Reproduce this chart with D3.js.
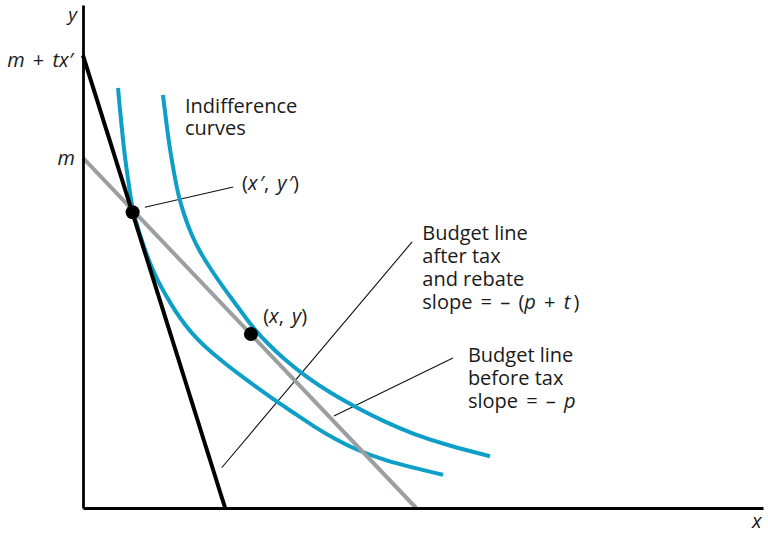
<!DOCTYPE html>
<html>
<head>
<meta charset="utf-8">
<script src="https://cdn.jsdelivr.net/npm/d3@7"></script>
<style>
  body { margin: 0; background: #fff; }
  svg text { font-family: "Open Sans", sans-serif; font-size: 20px; fill: #1a1a1a; }
  .math { font-style: italic; }
  .wide { word-spacing: 3px; }
</style>
</head>
<body>
<svg id="chart" width="768" height="534"></svg>
<script>
// budget lines: [x, y] intercept points
var afterTaxLine = [[0, 9.0], [2.09, 0]];
var beforeTaxLine = [[0, 6.96], [4.90, 0]];

// indifference curves
var innerCurve = [[0.515, 8.35], [0.544, 7.91], [0.574, 7.52], [0.603, 7.12], [0.647, 6.68],
  [0.691, 6.26], [0.735, 5.89], [0.824, 5.49], [0.912, 5.13], [1.0, 4.81], [1.103, 4.51],
  [1.221, 4.22], [1.353, 3.92], [1.5, 3.64], [1.676, 3.36], [1.882, 3.10], [2.118, 2.84],
  [2.382, 2.57], [2.647, 2.31], [2.897, 2.07], [3.147, 1.85], [3.382, 1.63], [3.706, 1.37],
  [4.029, 1.15], [4.441, 0.95], [4.853, 0.80], [5.294, 0.66]];
var outerCurve = [[1.176, 8.21], [1.221, 7.71], [1.268, 7.22], [1.330, 6.72], [1.400, 6.22],
  [1.490, 5.81], [1.595, 5.43], [1.720, 5.09], [1.868, 4.77], [2.040, 4.43], [2.221, 4.10],
  [2.382, 3.80], [2.529, 3.54], [2.721, 3.26], [2.941, 2.98], [3.265, 2.62], [3.632, 2.29],
  [4.029, 1.99], [4.441, 1.71], [4.853, 1.47], [5.397, 1.23], [5.985, 1.03]];

// chosen bundles (x', y') and (x, y)
var bundles = [[0.73, 5.88], [2.47, 3.46]];

// leader lines for the labels
var leaders = [
  [[0.91, 5.98], [2.21, 6.38]],
  [[2.04, 0.80], [4.84, 5.29]],
  [[3.69, 1.83], [5.44, 2.98]]
];

var svg = d3.select("#chart");

var x = d3.scaleLinear().domain([0, 10]).range([83, 763]);
var y = d3.scaleLinear().domain([0, 10]).range([508, 5]);

var line = d3.line().x(function(d) { return x(d[0]); }).y(function(d) { return y(d[1]); });
var curve = d3.line().x(function(d) { return x(d[0]); }).y(function(d) { return y(d[1]); })
  .curve(d3.curveBasis);

// leader lines go under everything
leaders.forEach(function(l) {
  svg.append("path").attr("d", line(l))
    .attr("fill", "none").attr("stroke", "#111").attr("stroke-width", 1.1);
});

// indifference curves
[innerCurve, outerCurve].forEach(function(c) {
  svg.append("path").attr("d", curve(c))
    .attr("fill", "none").attr("stroke", "#0d9fc7").attr("stroke-width", 4);
});

svg.append("path").attr("d", line(beforeTaxLine))
  .attr("fill", "none").attr("stroke", "#9a9fa1").attr("stroke-width", 4);
svg.append("path").attr("d", line(afterTaxLine))
  .attr("fill", "none").attr("stroke", "#000").attr("stroke-width", 4);

// axes, no ticks
svg.append("g").attr("transform", "translate(0," + y(0) + ")")
  .call(d3.axisBottom(x).ticks(0).tickSizeOuter(0));
svg.append("g").attr("transform", "translate(" + x(0) + ",0)")
  .call(d3.axisLeft(y).ticks(0).tickSizeOuter(0));
svg.selectAll(".domain").attr("stroke", "#000").attr("stroke-width", 2.8);

svg.selectAll(".bundle").data(bundles).enter().append("circle")
  .attr("class", "bundle")
  .attr("cx", function(d) { return x(d[0]); })
  .attr("cy", function(d) { return y(d[1]); })
  .attr("r", 7).attr("fill", "#000");

// text helper: parts are [string, italic?]
function label(px, py, parts, anchor, cls) {
  var t = svg.append("text").attr("x", px).attr("y", py)
    .attr("text-anchor", anchor || "start").attr("class", cls || null);
  parts.forEach(function(p) {
    t.append("tspan").attr("class", p[1] ? "math" : null).text(p[0]);
  });
  return t;
}

label(x(0) - 6, y(10) + 16, [["y", true]], "end").style("font-size", "19px");
label(x(10) - 11, y(0) + 20, [["x", true]]);
label(x(0) - 10, y(afterTaxLine[0][1]) + 12, [["m", true], [" + ", false], ["tx\u2032", true]], "end", "wide");
label(x(0) - 8, y(beforeTaxLine[0][1]) + 7, [["m", true]], "end");

label(x(1.5), y(7.85), [["Indifference", false]]);
label(x(1.5), y(7.85) + 22, [["curves", false]]);

label(x(2.34), y(6.32), [["(", false], ["x\u200a\u2032", true], [", ", false], ["y\u200a\u2032", true], [")", false]], "start", "wide");
label(x(2.65), y(3.68), [["(", false], ["x", true], [", ", false], ["y", true], [")", false]], "start", "wide");

var afterLines = [[["Budget line", false]], [["after tax", false]], [["and rebate", false]],
  [["slope = \u2013 (", false], ["p", true], [" + ", false], ["t", true], ["\u2009)", false]]];
afterLines.forEach(function(parts, i) {
  label(x(4.99), y(5.33) + i * 23, parts, "start", i == 3 ? "wide" : null);
});

var beforeLines = [[["Budget line", false]], [["before tax", false]],
  [["slope = \u2013 ", false], ["p", true]]];
beforeLines.forEach(function(parts, i) {
  label(x(5.66), y(2.90) + i * 23, parts, "start", i == 2 ? "wide" : null);
});
</script>
</body>
</html>
